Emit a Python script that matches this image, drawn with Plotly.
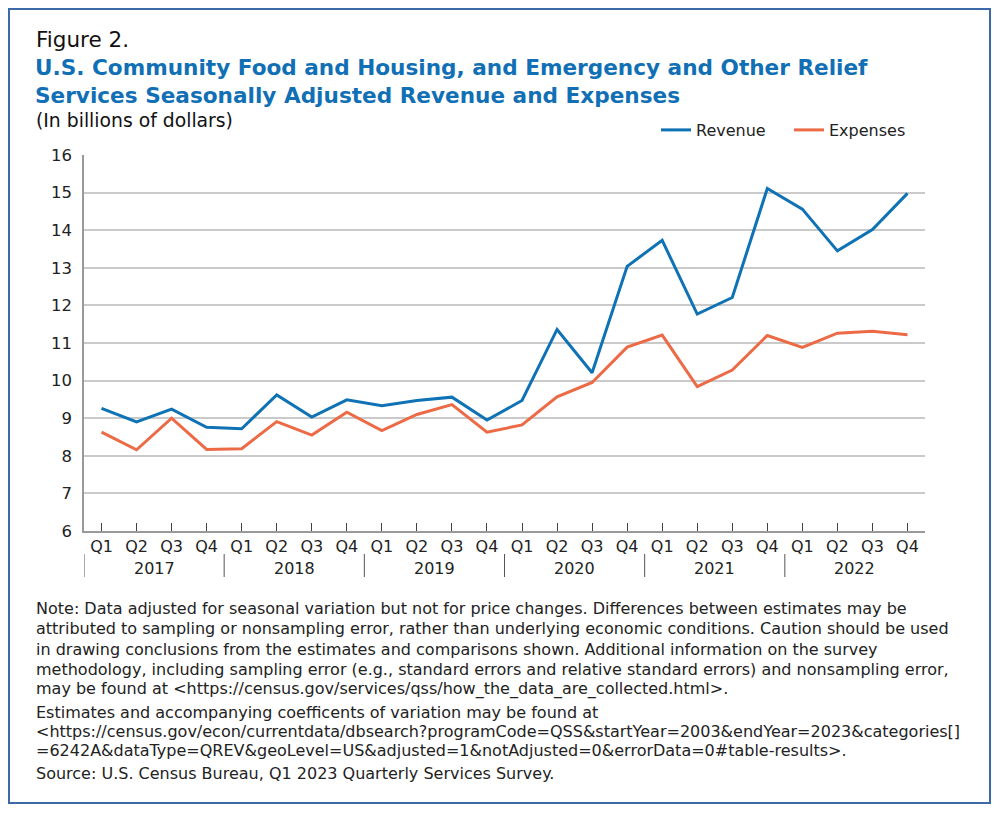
import plotly.graph_objects as go

quarters = ["Q1", "Q2", "Q3", "Q4"]
years = ["2017", "2018", "2019", "2020", "2021", "2022"]
revenue = [9.26, 8.90, 9.24, 8.76, 8.72, 9.62, 9.03, 9.49, 9.33, 9.47, 9.56, 8.95,
           9.47, 11.36, 10.21, 13.04, 13.73, 11.77, 12.21, 15.11, 14.56, 13.45, 14.02, 14.98]
expenses = [8.63, 8.16, 9.00, 8.17, 8.19, 8.91, 8.55, 9.16, 8.67, 9.10, 9.36, 8.63,
            8.82, 9.57, 9.95, 10.89, 11.21, 9.84, 10.28, 11.20, 10.88, 11.26, 11.31, 11.22]
y_ticks = [6, 7, 8, 9, 10, 11, 12, 13, 14, 15, 16]

title_lines = ["U.S. Community Food and Housing, and Emergency and Other Relief",
               "Services Seasonally Adjusted Revenue and Expenses"]
note_lines = [
    "Note: Data adjusted for seasonal variation but not for price changes. Differences between estimates may be",
    "attributed to sampling or nonsampling error, rather than underlying economic conditions. Caution should be used",
    "in drawing conclusions from the estimates and comparisons shown. Additional information on the survey",
    "methodology, including sampling error (e.g., standard errors and relative standard errors) and nonsampling error,",
    "may be found at &lt;https://census.gov/services/qss/how_the_data_are_collected.html&gt;.",
    "Estimates and accompanying coefficents of variation may be found at",
    "&lt;https://census.gov/econ/currentdata/dbsearch?programCode=QSS&amp;startYear=2003&amp;endYear=2023&amp;categories[]",
    "=6242A&amp;dataType=QREV&amp;geoLevel=US&amp;adjusted=1&amp;notAdjusted=0&amp;errorData=0#table-results&gt;.",
    "Source: U.S. Census Bureau, Q1 2023 Quarterly Services Survey.",
]
note_y = [608, 628.5, 649, 669, 688.5, 712, 731, 750.5, 773]

OFF = 8  # page body margin
W, H = 1000 - 2 * OFF, 813 - 2 * OFF
L, R, T, B = 84 - OFF, 925 - OFF, 155 - OFF, 531 - OFF
PW, PH = R - L, B - T

def px(x):
    return (x - OFF - L) / PW

def py(y):
    return (B - (y - OFF)) / PH

def fx(x):
    return (x - L) / PW

def fy(y):
    return (B - y) / PH

x_idx = list(range(len(revenue)))
x_labels = [q for _ in years for q in quarters]

BLUE = "#0E72B5"
ORANGE = "#EC6A45"
GRID = "#CACACA"
FONT = "DejaVu Sans"
TXT = "#222222"

fig = go.Figure()
fig.add_trace(go.Scatter(x=x_idx, y=revenue, mode="lines", name="Revenue",
                         line=dict(color=BLUE, width=3)))
fig.add_trace(go.Scatter(x=x_idx, y=expenses, mode="lines", name="Expenses",
                         line=dict(color=ORANGE, width=3)))

annotations = []
shapes = []
for i, yr in enumerate(years):
    center = i * 4 + 1.5
    annotations.append(dict(x=center, y=py(568), xref="x", yref="paper", text=yr,
                            showarrow=False, font=dict(family=FONT, size=16, color=TXT),
                            xanchor="center", yanchor="middle"))
    shapes.append(dict(type="line", xref="x", yref="paper", x0=i * 4 - 0.5, x1=i * 4 - 0.5,
                       y0=py(554), y1=py(577), line=dict(color="#555", width=1)))

annotations.append(dict(x=px(34), y=py(40), xref="paper", yref="paper", text="Figure 2.",
                        showarrow=False, xanchor="left", yanchor="middle",
                        font=dict(family=FONT, size=21.5, color="#111")))
for t, yy in zip(title_lines, [67, 95]):
    annotations.append(dict(x=px(33), y=py(yy), xref="paper", yref="paper",
                            text="<b>" + t + "</b>",
                            showarrow=False, xanchor="left", yanchor="middle", align="left",
                            font=dict(family=FONT, size=21.6, color="#1170B5")))
annotations.append(dict(x=px(34), y=py(120), xref="paper", yref="paper",
                        text="(In billions of dollars)",
                        showarrow=False, xanchor="left", yanchor="middle",
                        font=dict(family=FONT, size=18.8, color="#111")))
for t, yy in zip(note_lines, note_y):
    annotations.append(dict(x=px(34), y=py(yy), xref="paper", yref="paper", text=t,
                            showarrow=False, xanchor="left", yanchor="middle", align="left",
                            font=dict(family=FONT, size=16, color=TXT)))

# outer frame, kept inside the figure canvas
shapes.append(dict(type="rect", xref="paper", yref="paper", x0=fx(1), x1=fx(W - 2),
                   y0=fy(H - 2), y1=fy(1), line=dict(color="#3C6AA8", width=2)))

fig.update_layout(
    width=W, height=H,
    margin=dict(l=L, r=W - R, t=T, b=H - B),
    paper_bgcolor="white", plot_bgcolor="white",
    showlegend=True,
    legend=dict(orientation="h", x=px(656), y=py(130), xref="paper", yref="paper",
                xanchor="left", yanchor="middle",
                font=dict(family=FONT, size=16, color=TXT),
                itemwidth=30, entrywidth=88, entrywidthmode="pixels",
                traceorder="normal", bgcolor="rgba(0,0,0,0)"),
    xaxis=dict(range=[-0.5, 23.5], tickmode="array", tickvals=x_idx, ticktext=x_labels,
               ticks="inside", ticklen=8, tickcolor="#444", tickwidth=1,
               showgrid=False, zeroline=False, showline=True, linecolor="#999", linewidth=1.5,
               tickfont=dict(family=FONT, size=16, color=TXT), fixedrange=True),
    yaxis=dict(range=[6, 16], tickmode="array", tickvals=y_ticks,
               showgrid=True, gridcolor=GRID, gridwidth=1.5, zeroline=False,
               showline=True, linecolor="#999", linewidth=1.5, ticks="",
               tickfont=dict(family=FONT, size=16.5, color=TXT), ticklabelstandoff=7,
               fixedrange=True),
    annotations=annotations,
    shapes=shapes,
)

fig.write_html("out.html")
